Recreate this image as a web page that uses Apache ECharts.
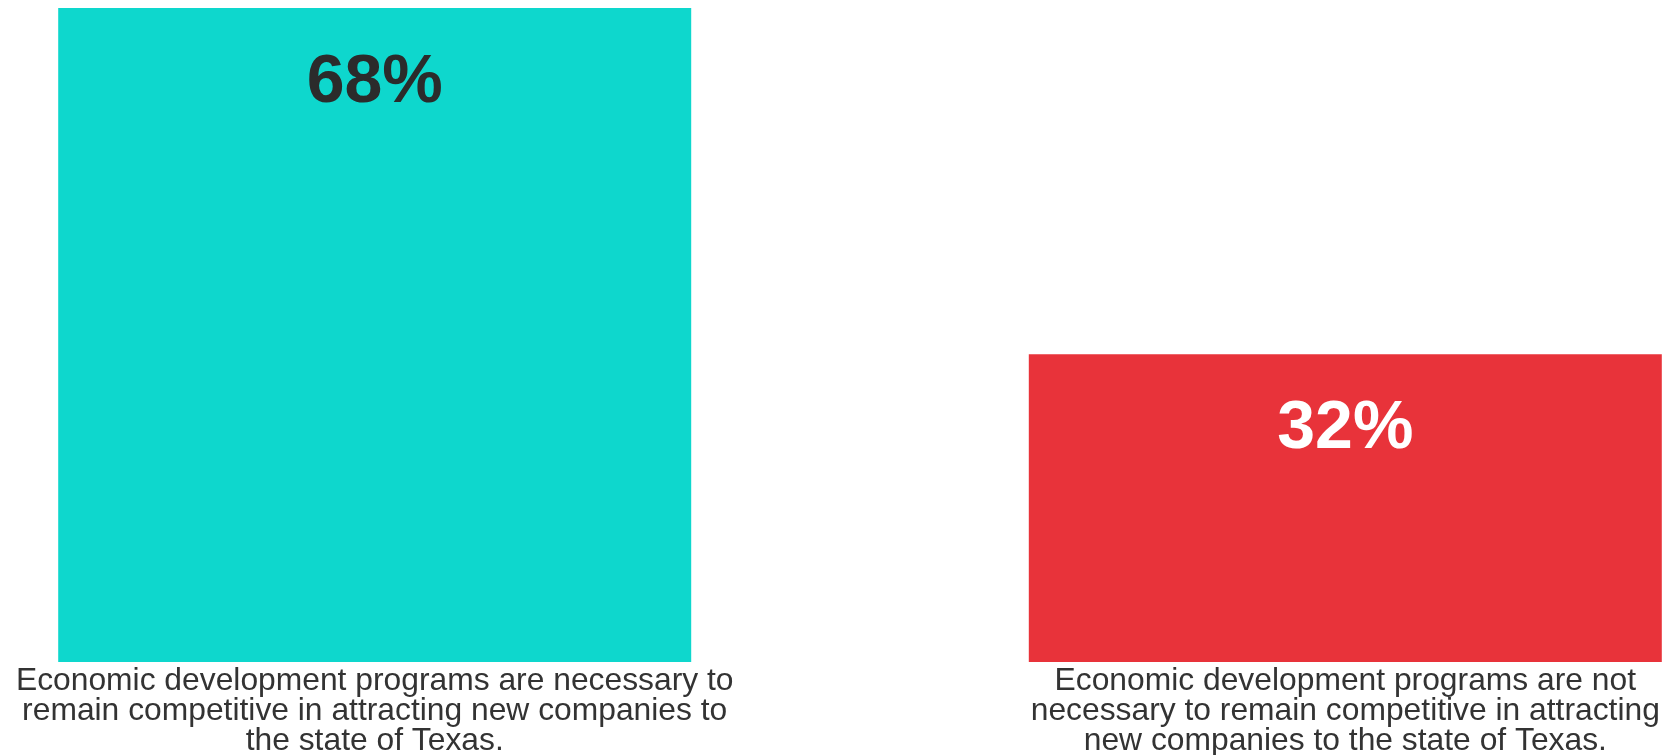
<!DOCTYPE html>
<html>
<head>
<meta charset="utf-8">
<style>
html,body{margin:0;padding:0;background:#fff;}
#chart{width:1664px;height:755px;}
</style>
<script src="https://cdn.jsdelivr.net/npm/echarts@6/dist/echarts.min.js"></script>
</head>
<body>
<div id="chart"></div>
<script>
const categories = [
  "Economic development programs are necessary to\nremain competitive in attracting new companies to\nthe state of Texas.",
  "Economic development programs are not\nnecessary to remain competitive in attracting\nnew companies to the state of Texas."
];
const values = [68, 32];
const barColors = ["#0ED7CD", "#E8333A"];
const labelColors = ["#2b2b2b", "#ffffff"];

const chart = echarts.init(document.getElementById('chart'));
chart.setOption({
  animation: false,
  backgroundColor: '#ffffff',
  textStyle: { fontFamily: '"Liberation Sans", Arial, sans-serif' },
  grid: { left: 374.7, right: 318.7, top: 8, bottom: 93, outerBoundsMode: 'none', containLabel: false },
  xAxis: {
    type: 'category',
    data: categories,
    boundaryGap: false,
    axisLine: { show: false },
    axisTick: { show: false },
    axisLabel: {
      interval: 0,
      margin: 4,
      fontSize: 31.8,
      lineHeight: 30,
      color: '#333333',
      align: 'center',
      fontFamily: '"Liberation Sans", Arial, sans-serif'
    }
  },
  yAxis: {
    type: 'value',
    min: 0,
    max: 68,
    show: false,
    splitLine: { show: false }
  },
  series: [{
    type: 'bar',
    clip: false,
    barWidth: 633,
    data: values.map((v, i) => ({
      value: v,
      itemStyle: { color: barColors[i] },
      label: { color: labelColors[i] }
    })),
    label: {
      show: true,
      position: 'insideTop',
      distance: 41,
      fontSize: 68,
      fontWeight: 'bold',
      fontFamily: '"Liberation Sans", Arial, sans-serif',
      formatter: p => p.value + '%'
    }
  }]
});
</script>
</body>
</html>
